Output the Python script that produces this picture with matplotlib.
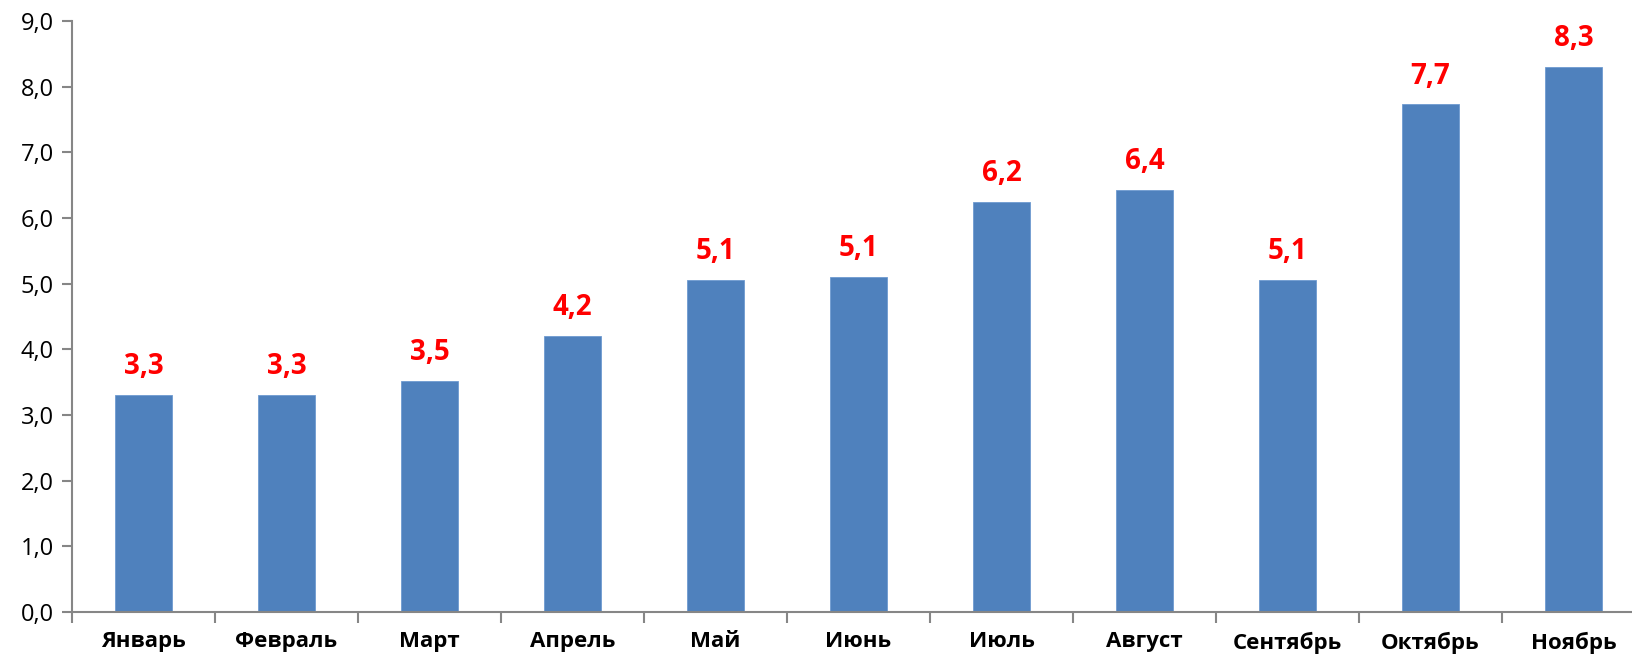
import matplotlib
matplotlib.use("Agg")
import matplotlib.pyplot as plt
import numpy as np

months = ["Январь", "Февраль", "Март", "Апрель", "Май", "Июнь",
          "Июль", "Август", "Сентябрь", "Октябрь", "Ноябрь"]
values = [3.30, 3.30, 3.52, 4.20, 5.06, 5.10, 6.24, 6.43, 5.06, 7.73, 8.30]
yticks = [0, 1, 2, 3, 4, 5, 6, 7, 8, 9]

plt.rcParams["font.family"] = ["Open Sans", "DejaVu Sans"]

fig = plt.figure(figsize=(16.32, 6.59), dpi=100)
ax = fig.add_axes([72 / 1632, 1 - 612 / 659, (1645 - 72) / 1632, (612 - 21) / 659])

x = np.arange(len(months))
bars = ax.bar(x, values, width=0.4, color="#4F81BD", edgecolor="#6F9AD0", linewidth=0.6, zorder=2)

for xi, v in zip(x, values):
    ax.annotate(f"{v:.1f}".replace(".", ","), (xi, v), xytext=(0, 10),
                textcoords="offset points", ha="center", va="bottom",
                color="#FF0000", fontsize=20, fontweight="bold")

ax.set_xlim(-0.5, len(months) - 0.5)
ax.set_ylim(0, 9)
ax.set_yticks(yticks)
ax.set_yticklabels([f"{t:.1f}".replace(".", ",") for t in yticks], fontsize=17)

ax.set_xticks(np.arange(-0.5, len(months), 1.0))
ax.set_xticklabels([])
ax.set_xticks(x, minor=True)
ax.set_xticklabels(months, minor=True, fontsize=16, fontweight="bold")
ax.tick_params(axis="x", which="minor", length=0, pad=14)
ax.tick_params(axis="x", which="major", length=8, width=1.5, color="#868686", direction="out")
ax.tick_params(axis="y", length=7, width=1.5, color="#868686", direction="out", pad=6)

for side in ("top", "right"):
    ax.spines[side].set_visible(False)
for side in ("left", "bottom"):
    ax.spines[side].set_color("#868686")
    ax.spines[side].set_linewidth(1.5)

fig.savefig("out.png", dpi=100)
